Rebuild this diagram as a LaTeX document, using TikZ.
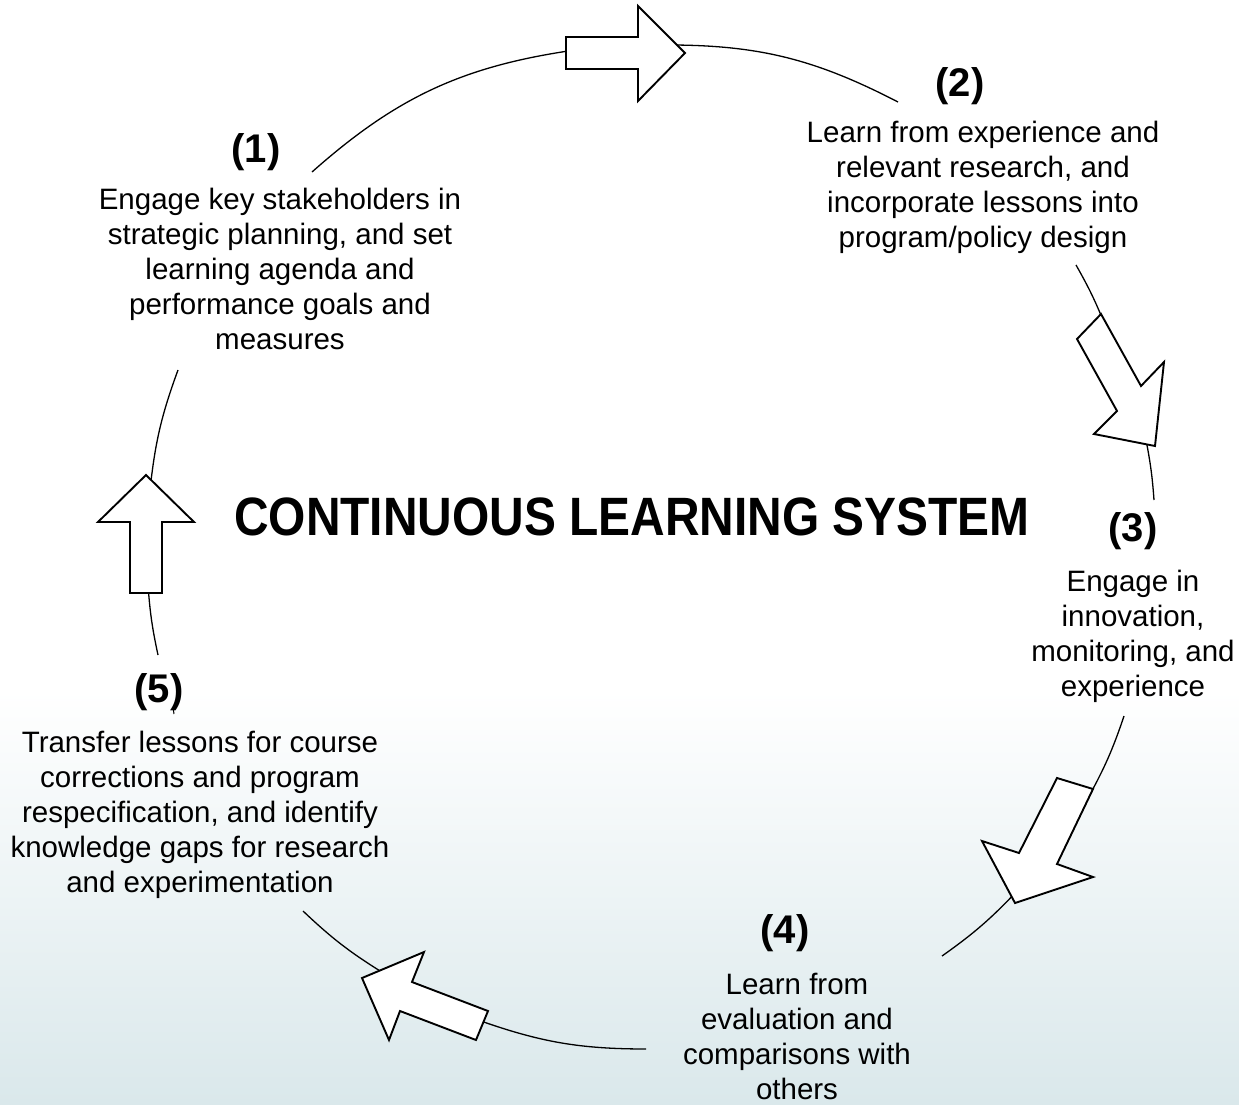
\documentclass[tikz,border=0pt]{standalone}
\usepackage{fontspec}
\setmainfont{Liberation Sans}
\definecolor{bgc}{RGB}{218,232,235}
\begin{document}
\begin{tikzpicture}[x=1pt,y=-1pt,
  arcline/.style={line width=1.3pt},
  blockarrow/.style={draw=black, fill=white, line width=1.9pt, line join=miter},
  body/.style={align=center, inner sep=0pt, anchor=north, font=\fontsize{29.5}{35.2}\selectfont},
  lbl/.style={inner sep=0pt, anchor=base, font=\fontsize{40}{48}\selectfont\bfseries}]
\useasboundingbox (0pt,0pt) rectangle (1239pt,-1104pt);
\fill[white] (0pt,0pt) rectangle (1239pt,-690pt);
\shade[top color=white,bottom color=bgc] (0pt,-690pt) rectangle (1239pt,-1104pt);

% arc end points
\coordinate (a1s) at (312,172);  \coordinate (a1e) at (575,50);
\coordinate (a2s) at (660,45);   \coordinate (a2e) at (898,102);
\coordinate (a3s) at (1076,265); \coordinate (a3e) at (1105,325);
\coordinate (a4s) at (1146,440); \coordinate (a4e) at (1154,500);
\coordinate (a5s) at (1124,716); \coordinate (a5e) at (1088,798);
\coordinate (a6s) at (1018,890); \coordinate (a6e) at (942,956);
\coordinate (a7s) at (646,1049); \coordinate (a7e) at (478,1020);
\coordinate (a8s) at (385,974);  \coordinate (a8e) at (303,911);
\coordinate (a9s) at (158,655);  \coordinate (a9e) at (148,585);
\coordinate (a10s) at (150,490); \coordinate (a10e) at (178,370);

\draw[arcline] (a1s) to[bend left=16.7] (a1e);
\draw[arcline] (a2s) to[bend left=13.9] (a2e);
\draw[arcline] (a3s) to[bend left=3.8] (a3e);
\draw[arcline] (a4s) to[bend left=3.4] (a4e);
\draw[arcline] (a5s) to[bend left=5.1] (a5e);
\draw[arcline] (a6s) to[bend left=5.7] (a6e);
\draw[arcline] (a7s) to[bend left=9.7] (a7e);
\draw[arcline] (a8s) to[bend left=5.9] (a8e);
\draw[arcline] (a9s) to[bend left=4.0] (a9e);
\draw[arcline] (a10s) to[bend left=7.0] (a10e);
\draw[line width=1pt] (173,707) -- (174,714);

% block arrows
\draw[blockarrow] (566,37) -- (638,37) -- (638,6) -- (685,53) -- (638,101) -- (638,69) -- (566,69) -- cycle;
\draw[blockarrow] (1101,314) -- (1141,386) -- (1164,362) -- (1155,446) -- (1094,434) -- (1117,411) -- (1077,339) -- cycle;
\draw[blockarrow] (1057,778) -- (1093,789) -- (1057,864) -- (1093,877) -- (1015,903) -- (982,841) -- (1019,853) -- cycle;
\draw[blockarrow] (362,978) -- (424,952) -- (412,982) -- (488,1011) -- (476,1040) -- (400,1011) -- (389,1040) -- cycle;
\draw[blockarrow] (146,475) -- (194,522) -- (162,522) -- (162,593) -- (130,593) -- (130,522) -- (98,522) -- cycle;

% labels
\node[lbl] (l1) at (256,162) {(1)};
\node[lbl] (l2) at (960,96) {(2)};
\node[lbl] (l3) at (1133,541) {(3)};
\node[lbl] (l4) at (785,943) {(4)};
\node[lbl] (l5) at (159,702) {(5)};

\node[inner sep=0pt, anchor=base, font=\fontsize{54}{60}\selectfont\bfseries] (title) at (632,535)
  {\scalebox{0.887}[1]{CONTINUOUS LEARNING SYSTEM}};

% texts
\node[body] (t1) at (280,187.5) {Engage key stakeholders in\\strategic planning, and set\\learning agenda and\\performance goals and\\measures};
\node[body] (t2) at (983,120.5) {Learn from experience and\\relevant research, and\\incorporate lessons into\\program/policy design};
\node[body] (t3) at (1133,569.5) {Engage in\\innovation,\\monitoring, and\\experience};
\node[body] (t4) at (797,972.5) {Learn from\\evaluation and\\comparisons with\\others};
\node[body] (t5) at (200,730.5) {Transfer lessons for course\\corrections and program\\respecification, and identify\\knowledge gaps for research\\and experimentation};
\end{tikzpicture}
\end{document}
